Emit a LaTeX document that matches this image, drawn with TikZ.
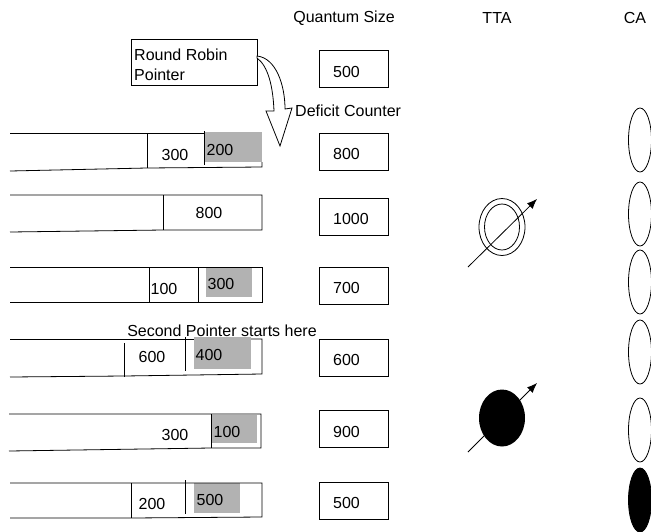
\documentclass[tikz,border=0pt]{standalone}
\usepackage{fontspec}
\setmainfont{Liberation Sans}
\usetikzlibrary{shapes.geometric,arrows.meta}
\tikzset{
  lbl/.style={inner sep=0pt, font=\fontsize{16}{20}\selectfont},
  qbox/.style={draw, line width=0.8pt, minimum width=69pt, minimum height=37pt, inner sep=0pt},
  ln/.style={line width=0.8pt},
  shade/.style={fill=gray!60, draw=none},
  caell/.style={ellipse, draw, line width=0.8pt, minimum width=23pt, minimum height=64pt, inner sep=0pt},
  ttaarrow/.style={line width=0.8pt, -{Latex[length=10pt,width=8pt]}}
}
\begin{document}
\begin{tikzpicture}[x=1pt,y=-1pt]
\useasboundingbox (0,0) rectangle (651,531);
% headers
\node[lbl] (hq) at (344,18) {Quantum Size};
\node[lbl] (ht) at (497,18) {TTA};
\node[lbl] (hc) at (635,18) {CA};
% round robin pointer
\node[draw, line width=0.8pt, minimum width=126pt, minimum height=46pt, inner sep=0pt] (rr) at (194,62) {};
\node[lbl, align=left, anchor=west] (rrt) at (134,65) {Round Robin\\Pointer};
% hollow curved arrow
\coordinate (arA) at (257,56);
\draw[ln, fill=white] (arA) .. controls (276,58) and (285,85) .. (285,109) -- (292,108) -- (280,146) -- (266,111) -- (274,111) .. controls (273,86) and (268,66) .. (257,58) -- cycle;
\node[lbl, anchor=west] (dc) at (295,111) {Deficit Counter};
% quantum boxes
\node[qbox] (q1) at (353.5,69) {};
\node[qbox] (q2) at (353.5,152) {};
\node[qbox] (q3) at (353.5,216.5) {};
\node[qbox] (q4) at (353.5,285.5) {};
\node[qbox] (q5) at (353.5,357.5) {};
\node[qbox] (q6) at (353.5,429) {};
\node[qbox] (q7) at (353.5,501) {};
\node[lbl, anchor=west] (q1t) at (333,72) {500};
\node[lbl, anchor=west] (q2t) at (333,154) {800};
\node[lbl, anchor=west] (q3t) at (333,219) {1000};
\node[lbl, anchor=west] (q4t) at (333,288) {700};
\node[lbl, anchor=west] (q5t) at (333,360) {600};
\node[lbl, anchor=west] (q6t) at (333,432) {900};
\node[lbl, anchor=west] (q7t) at (333,503) {500};
% row 1
\fill[gray!60] (205,132) rectangle (262,162);
\draw[ln] (10,133) -- (205,133);
\draw[ln] (10,171) -- (147,168) -- (262,167) -- (262,162);
\draw[ln] (147,133) -- (147,168);
\draw[ln] (204,131) -- (204,165);
\node[lbl] (r1a) at (175,155) {300};
\node[lbl] (r1b) at (220,150) {200};
% row 2
\draw[ln] (10,195) -- (262,195) -- (262,230) -- (163,230) -- (10,232);
\draw[ln] (163,195) -- (163,230);
\node[lbl] (r2a) at (209,213) {800};
% row 3
\fill[gray!60] (206,267) rectangle (252,297);
\draw[ln] (10,267) -- (262,267) -- (262,302) -- (10,302);
\draw[ln] (149,267) -- (149,302);
\draw[ln] (198,267) -- (198,302);
\node[lbl] (r3a) at (164,289) {100};
\node[lbl] (r3b) at (221,284) {300};
% row 4
\fill[gray!60] (194,337) rectangle (251,369);
\draw[ln] (10,339) -- (194,339);
\draw[ln] (251,339) -- (262,339) -- (262,374) -- (124,376) -- (10,377);
\draw[ln] (124,343) -- (124,377);
\draw[ln] (185,337) -- (185,371);
\node[lbl] (r4a) at (152,357) {600};
\node[lbl] (r4b) at (209,355) {400};
\node[lbl] (sp) at (222,331) {Second Pointer starts here};
% row 5
\fill[gray!60] (211,415) rectangle (257,443);
\draw[ln] (9,414) -- (261,414) -- (261,448) -- (211,448) -- (9,451);
\draw[ln] (211,414) -- (211,448);
\node[lbl] (r5a) at (175,435) {300};
\node[lbl] (r5b) at (227,432) {100};
% row 6
\fill[gray!60] (194,483) rectangle (240,513);
\draw[ln] (10,483) -- (262,483) -- (262,517) -- (131,518) -- (10,518);
\draw[ln] (131,483) -- (131,518);
\draw[ln] (185,480) -- (185,514);
\node[lbl] (r6a) at (152,504) {200};
\node[lbl] (r6b) at (210,500) {500};
% TTA
\node[ellipse, draw, line width=0.8pt, minimum width=46pt, minimum height=57pt, inner sep=0pt] (t1o) at (502,227) {};
\node[ellipse, draw, line width=0.8pt, minimum width=35pt, minimum height=46pt, inner sep=0pt] (t1i) at (502,227) {};
\coordinate (t1s) at (468,267);
\coordinate (t1e) at (537,199);
\draw[ttaarrow] (t1s) -- (t1e);
\node[ellipse, fill=black, minimum width=46pt, minimum height=57pt, inner sep=0pt] (t2) at (502,418) {};
\coordinate (t2s) at (468,452);
\coordinate (t2e) at (537,383);
\draw[ttaarrow] (t2s) -- (t2e);
% CA
\node[caell] (c1) at (640,140) {};
\node[caell] (c2) at (640,214) {};
\node[caell] (c3) at (640,282) {};
\node[caell] (c4) at (640,352) {};
\node[caell] (c5) at (640,430) {};
\node[caell, fill=black] (c6) at (640,500) {};
\end{tikzpicture}
\end{document}
